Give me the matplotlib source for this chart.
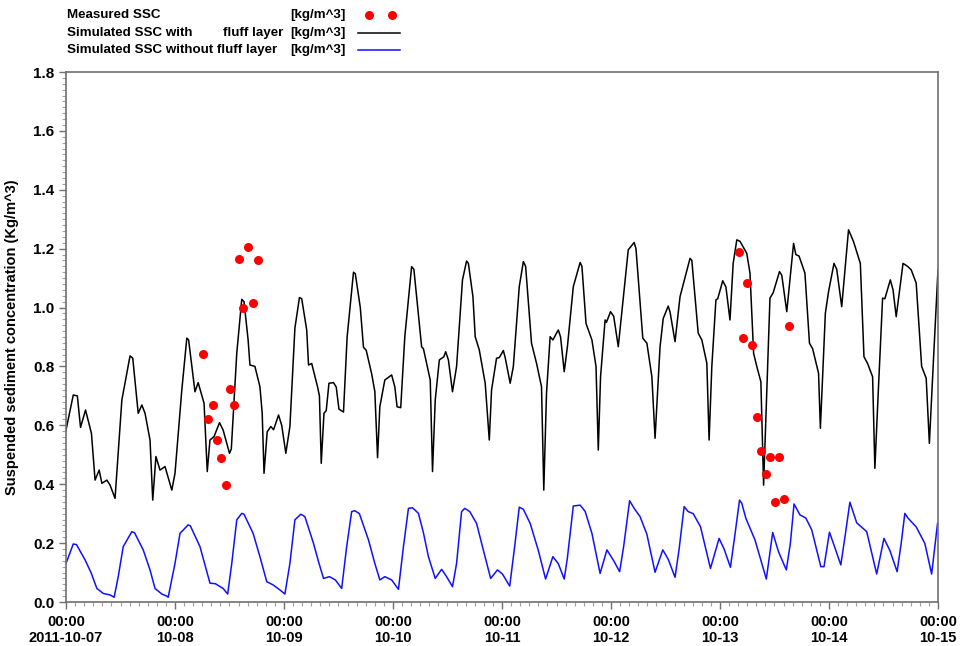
import matplotlib
matplotlib.use("Agg")
import matplotlib.pyplot as plt
from matplotlib.ticker import MultipleLocator, FixedLocator
from matplotlib.lines import Line2D

plt.rcParams['font.family'] = ['Liberation Sans', 'DejaVu Sans']
plt.rcParams['font.weight'] = 'bold'

# Simulated SSC with fluff layer: (hours since 2011-10-07 00:00, kg/m^3)
with_fluff_hours = [
    0.0, 1.6, 2.5, 3.2, 4.3, 5.6, 6.4, 7.3, 7.9, 9.0, 9.7, 10.8, 12.3, 14.1, 14.7,
    15.9, 16.7, 17.4, 18.5, 19.1, 19.8, 20.7, 21.8, 23.3, 24.0, 25.5, 26.6, 27.0,
    28.4, 29.1, 30.4, 31.1, 31.7, 32.6, 33.8, 34.6, 36.0, 36.4, 37.6, 38.7, 39.2,
    40.1, 40.5, 41.6, 42.7, 43.2, 43.6, 44.3, 45.1, 45.7, 46.8, 47.5, 48.4, 49.3,
    50.4, 51.4, 51.9, 53.0, 53.4, 54.1, 55.4, 55.8, 56.2, 56.8, 57.3, 57.9, 58.9,
    59.5, 60.1, 61.1, 61.9, 63.3, 63.7, 64.8, 65.5, 66.1, 67.3, 68.0, 68.6, 69.1,
    70.2, 71.7, 72.4, 72.9, 73.7, 74.6, 76.1, 76.6, 77.6, 78.3, 78.7, 80.2, 80.7,
    81.3, 82.2, 83.2, 83.6, 84.2, 85.1, 86.0, 87.3, 88.2, 88.6, 89.6, 90.1, 91.0,
    92.3, 93.2, 93.7, 94.8, 95.4, 96.3, 96.7, 97.8, 98.5, 99.8, 100.7, 101.2,
    102.5, 103.6, 104.7, 105.2, 105.8, 106.6, 107.2, 108.4, 108.9, 109.7, 110.4,
    111.7, 113.2, 113.6, 114.5, 115.8, 116.7, 117.2, 117.7, 118.7, 119.0, 119.9,
    120.6, 121.6, 123.8, 125.1, 125.5, 127.0, 127.9, 129.0, 129.7, 130.8, 131.5,
    132.6, 133.0, 134.1, 135.2, 137.4, 137.8, 139.2, 140.0, 141.1, 141.6, 142.2,
    143.1, 143.5, 144.6, 145.3, 146.2, 146.9, 147.7, 148.4, 149.9, 150.6, 151.4,
    152.1, 153.0, 153.6, 155.0, 155.7, 157.1, 157.6, 158.7, 160.2, 160.7, 161.4,
    162.7, 163.7, 164.4, 165.7, 166.1, 167.2, 167.9, 169.1, 169.7, 170.8, 172.3,
    173.4, 174.9, 175.7, 176.5, 177.6, 178.1, 178.8, 179.8, 180.3, 181.5, 182.1,
    182.8, 184.3, 185.3, 186.1, 187.2, 188.4, 189.4, 190.1, 191.0, 192.0,
]
with_fluff_ssc = [
    0.584, 0.703, 0.700, 0.593, 0.652, 0.573, 0.414, 0.448, 0.403, 0.414, 0.397,
    0.352, 0.686, 0.836, 0.828, 0.641, 0.669, 0.641, 0.550, 0.346, 0.494, 0.448,
    0.460, 0.380, 0.437, 0.720, 0.896, 0.890, 0.714, 0.745, 0.675, 0.443, 0.550,
    0.562, 0.609, 0.584, 0.505, 0.520, 0.845, 1.028, 1.020, 0.890, 0.805, 0.800,
    0.731, 0.641, 0.437, 0.578, 0.596, 0.585, 0.635, 0.600, 0.505, 0.596, 0.930,
    1.034, 1.030, 0.924, 0.805, 0.810, 0.730, 0.700, 0.471, 0.641, 0.650, 0.743,
    0.745, 0.730, 0.655, 0.645, 0.900, 1.120, 1.115, 1.000, 0.865, 0.855, 0.775,
    0.715, 0.490, 0.663, 0.754, 0.771, 0.731, 0.663, 0.660, 0.901, 1.139, 1.130,
    0.975, 0.867, 0.860, 0.754, 0.443, 0.686, 0.822, 0.833, 0.850, 0.822, 0.714,
    0.800, 1.094, 1.158, 1.150, 1.037, 0.901, 0.856, 0.743, 0.550, 0.720, 0.828,
    0.830, 0.854, 0.830, 0.743, 0.800, 1.071, 1.156, 1.140, 0.879, 0.811, 0.731,
    0.380, 0.709, 0.901, 0.890, 0.924, 0.900, 0.782, 0.867, 1.071, 1.153, 1.140,
    0.946, 0.890, 0.800, 0.516, 0.765, 0.958, 0.950, 0.986, 0.970, 0.867, 1.196,
    1.221, 1.200, 0.896, 0.879, 0.765, 0.556, 0.867, 0.963, 1.005, 0.985, 0.884,
    1.037, 1.167, 1.160, 0.913, 0.890, 0.811, 0.550, 0.800, 1.026, 1.030, 1.091,
    1.070, 0.958, 1.150, 1.230, 1.225, 1.184, 1.117, 0.845, 0.800, 0.748, 0.397,
    1.032, 1.050, 1.122, 1.110, 0.986, 1.218, 1.180, 1.175, 1.117, 0.879, 0.860,
    0.777, 0.590, 0.981, 1.054, 1.150, 1.130, 1.003, 1.264, 1.224, 1.150, 0.833,
    0.810, 0.765, 0.454, 0.697, 1.032, 1.030, 1.094, 1.060, 0.969, 1.150, 1.140,
    1.128, 1.083, 0.800, 0.760, 0.539, 0.822, 1.128,
]

# Simulated SSC without fluff layer
no_fluff_hours = [
    0.0, 1.6, 2.3, 4.2, 5.5, 6.8, 8.2, 9.7, 10.6, 11.5, 12.6, 14.5, 15.1, 17.0,
    18.5, 19.6, 21.1, 22.2, 22.5, 24.0, 25.1, 26.9, 27.4, 29.5, 31.7, 32.9, 34.6,
    35.6, 36.5, 37.6, 38.7, 39.2, 41.2, 42.7, 44.2, 45.6, 47.1, 48.2, 49.3, 50.4,
    51.7, 52.6, 54.5, 55.6, 56.7, 58.0, 59.3, 60.7, 61.8, 62.9, 63.6, 64.6, 66.6,
    68.0, 69.1, 70.2, 71.7, 73.2, 74.3, 75.4, 76.3, 77.6, 78.7, 79.8, 81.3, 82.7,
    83.8, 85.1, 86.0, 87.1, 87.8, 88.9, 90.4, 91.5, 93.5, 95.0, 96.1, 97.7, 98.8,
    99.8, 100.7, 102.2, 104.0, 105.6, 107.2, 108.4, 109.7, 110.4, 111.7, 113.2,
    114.3, 115.8, 117.6, 119.1, 120.6, 121.9, 122.8, 124.1, 125.1, 126.4, 127.9,
    129.7, 131.4, 132.6, 134.1, 135.0, 136.1, 137.0, 138.1, 139.7, 141.9, 143.8,
    144.9, 146.3, 147.3, 148.3, 148.8, 149.7, 151.7, 154.2, 155.6, 156.9, 158.6,
    159.5, 160.3, 161.6, 162.9, 164.2, 166.2, 166.9, 168.1, 169.4, 170.6, 171.6,
    172.6, 174.1, 176.3, 178.5, 180.1, 181.4, 183.0, 183.9, 184.7, 185.4, 186.1,
    187.2, 189.1, 190.6, 191.9,
]
no_fluff_ssc = [
    0.131, 0.197, 0.195, 0.143, 0.100, 0.046, 0.029, 0.024, 0.016, 0.086, 0.188,
    0.239, 0.235, 0.177, 0.109, 0.046, 0.027, 0.020, 0.016, 0.131, 0.233, 0.262,
    0.258, 0.188, 0.064, 0.062, 0.046, 0.027, 0.131, 0.279, 0.301, 0.298, 0.233,
    0.154, 0.069, 0.058, 0.041, 0.027, 0.131, 0.279, 0.298, 0.290, 0.199, 0.137,
    0.080, 0.086, 0.075, 0.046, 0.188, 0.307, 0.310, 0.300, 0.211, 0.131, 0.075,
    0.086, 0.075, 0.043, 0.188, 0.318, 0.320, 0.301, 0.235, 0.154, 0.080, 0.111,
    0.086, 0.052, 0.131, 0.307, 0.318, 0.307, 0.267, 0.200, 0.080, 0.109, 0.095,
    0.054, 0.190, 0.322, 0.315, 0.267, 0.175, 0.078, 0.154, 0.130, 0.078, 0.150,
    0.326, 0.329, 0.308, 0.233, 0.097, 0.177, 0.140, 0.103, 0.190, 0.344, 0.318,
    0.290, 0.230, 0.101, 0.177, 0.145, 0.084, 0.180, 0.324, 0.307, 0.300, 0.256,
    0.114, 0.216, 0.180, 0.118, 0.230, 0.346, 0.335, 0.284, 0.211, 0.078, 0.236,
    0.170, 0.109, 0.200, 0.333, 0.296, 0.285, 0.245, 0.120, 0.120, 0.237, 0.180,
    0.126, 0.230, 0.339, 0.269, 0.239, 0.095, 0.216, 0.175, 0.103, 0.200, 0.301,
    0.285, 0.273, 0.255, 0.199, 0.095, 0.267,
]

# Measured SSC samples
measured_hours = [
    30.2, 31.2, 32.3, 33.2, 34.2, 35.2, 36.1, 37.1, 38.2, 39.0, 40.1, 41.2, 42.2,
    148.2, 149.1, 150.0, 151.0, 152.1, 153.0, 154.2, 155.1, 156.1, 157.1, 158.1,
    159.1,
]
measured_ssc = [
    0.841, 0.621, 0.669, 0.550, 0.490, 0.397, 0.722, 0.669, 1.165, 0.999, 1.204,
    1.017, 1.162, 1.187, 0.898, 1.083, 0.873, 0.630, 0.514, 0.435, 0.491, 0.339,
    0.494, 0.349, 0.938,
]

day_labels = ["00:00\n2011-10-07", "00:00\n10-08", "00:00\n10-09", "00:00\n10-10",
              "00:00\n10-11", "00:00\n10-12", "00:00\n10-13", "00:00\n10-14",
              "00:00\n10-15"]

fig = plt.figure(figsize=(9.6, 6.46), dpi=100)
ax = fig.add_axes([66 / 960, 1 - 602 / 646, (938 - 66) / 960, (602 - 72) / 646])

ax.plot(no_fluff_hours, no_fluff_ssc, color='#1010ff', lw=1.1)
ax.plot(with_fluff_hours, with_fluff_ssc, color='black', lw=1.1)
ax.plot(measured_hours, measured_ssc, 'o', color='#ff0000', ms=6.5, mec='none')

ax.set_xlim(0, 192)
ax.set_ylim(0, 1.8)
ax.xaxis.set_major_locator(FixedLocator([24 * i for i in range(9)]))
ax.xaxis.set_minor_locator(MultipleLocator(2))
ax.set_xticklabels(day_labels)
ax.yaxis.set_major_locator(MultipleLocator(0.2))
ax.yaxis.set_minor_locator(MultipleLocator(0.02))
ax.yaxis.set_major_formatter(plt.FuncFormatter(lambda v, p: f"{v:.1f}"))

for s in ax.spines.values():
    s.set_color('#707070')
    s.set_linewidth(1.2)

ax.tick_params(axis='both', which='major', direction='out', length=5, width=1,
               color='#707070', labelsize=11)
ax.tick_params(axis='both', which='minor', direction='out', length=3, width=0.8,
               color='#a0a0a0')
ax.tick_params(axis='x', which='major', pad=4, labelsize=10.5)
for lbl in ax.get_xticklabels() + ax.get_yticklabels():
    lbl.set_fontweight('bold')

ax.set_ylabel("Suspended sediment concentration (Kg/m^3)", fontsize=10.5,
              fontweight='bold', labelpad=10)

# Legend block above the plot area
fs = 9.6
rows_y = [1 - 15 / 646, 1 - 33 / 646, 1 - 50 / 646]
fig.text(67 / 960, rows_y[0], "Measured SSC", fontsize=fs, fontweight='bold', va='center')
fig.text(67 / 960, rows_y[1], "Simulated SSC with", fontsize=fs, fontweight='bold', va='center')
fig.text(283 / 960, rows_y[1], "fluff layer", fontsize=fs, fontweight='bold', va='center', ha='right')
fig.text(67 / 960, rows_y[2], "Simulated SSC without fluff layer", fontsize=fs,
         fontweight='bold', va='center')
for yy in rows_y:
    fig.text(346 / 960, yy, "[kg/m^3]", fontsize=fs, fontweight='bold', va='center', ha='right')

fig.add_artist(Line2D([369 / 960, 392 / 960], [rows_y[0]] * 2, ls='none', marker='o',
                      color='#ff0000', ms=6.5, mec='none'))
fig.add_artist(Line2D([358 / 960, 400 / 960], [rows_y[1]] * 2, color='black', lw=1.1))
fig.add_artist(Line2D([358 / 960, 400 / 960], [rows_y[2]] * 2, color='#1010ff', lw=1.1))

fig.savefig("out.png", dpi=100)
